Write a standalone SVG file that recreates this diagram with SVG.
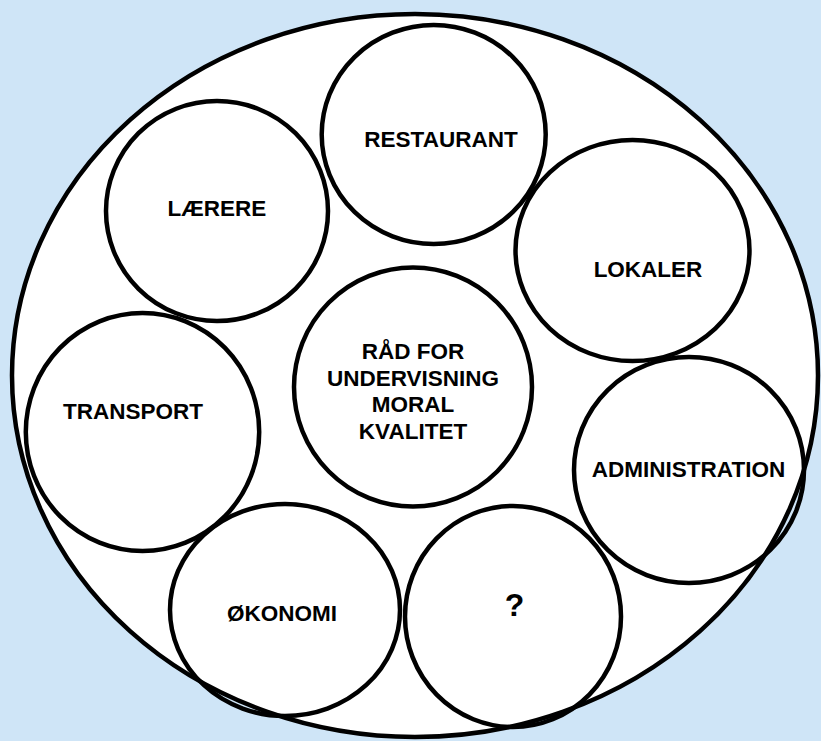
<svg xmlns="http://www.w3.org/2000/svg" width="821" height="741" viewBox="0 0 821 741">
<style>
.ring{fill:none;stroke:#000;stroke-width:4.5}
.lbl{font-family:"Liberation Sans",Arial,sans-serif;font-weight:bold;font-size:22.5px;fill:#000;text-anchor:middle}
</style>
<rect x="0" y="0" width="821" height="741" fill="#cfe5f7"/>
<g id="outer">
<ellipse cx="415" cy="375.5" rx="403" ry="361.5" fill="#fff" stroke="#000" stroke-width="4.5"/>
</g>
<g id="connectors"></g>
<g id="restaurant">
<ellipse class="ring" cx="433.7" cy="134.5" rx="112" ry="109.5"/>
<text class="lbl" x="441" y="147">RESTAURANT</text>
</g>
<g id="laerere">
<ellipse class="ring" cx="217" cy="211" rx="111" ry="110"/>
<text class="lbl" x="217" y="216">LÆRERE</text>
</g>
<g id="lokaler">
<ellipse class="ring" cx="632.5" cy="250.5" rx="117" ry="110.5"/>
<text class="lbl" x="648" y="277">LOKALER</text>
</g>
<g id="raad">
<ellipse class="ring" cx="413" cy="387" rx="119" ry="119.5"/>
<text class="lbl" x="413" y="359">RÅD FOR</text>
<text class="lbl" x="413" y="386">UNDERVISNING</text>
<text class="lbl" x="413" y="412">MORAL</text>
<text class="lbl" x="413" y="439">KVALITET</text>
</g>
<g id="transport">
<ellipse class="ring" cx="142.5" cy="432" rx="116.7" ry="119"/>
<text class="lbl" x="133" y="419">TRANSPORT</text>
</g>
<g id="administration">
<ellipse class="ring" cx="689" cy="470" rx="115" ry="113"/>
<text class="lbl" x="688.5" y="477">ADMINISTRATION</text>
</g>
<g id="okonomi">
<ellipse class="ring" cx="285" cy="610" rx="115" ry="106"/>
<text class="lbl" x="282" y="621">ØKONOMI</text>
</g>
<g id="question">
<ellipse class="ring" cx="513" cy="616.5" rx="108" ry="110.5"/>
<text class="lbl" x="514.5" y="616" style="font-size:32px">?</text>
</g>
</svg>
